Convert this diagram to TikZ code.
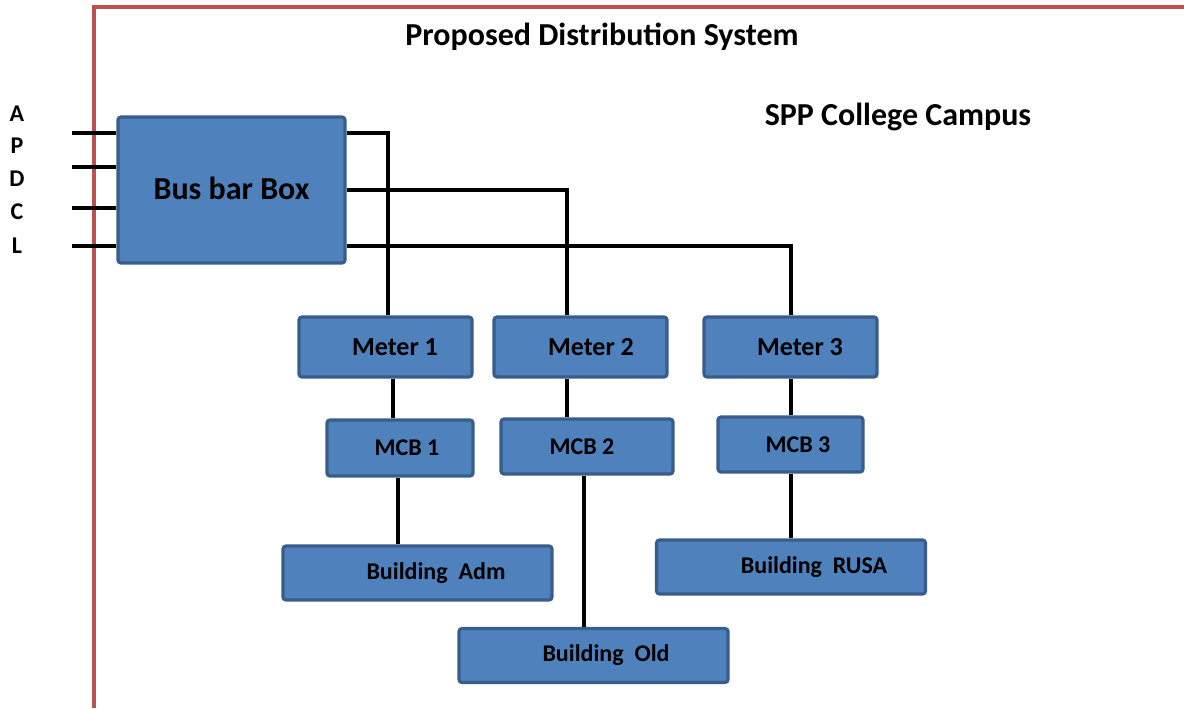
\documentclass[tikz,border=0pt]{standalone}
\usepackage{fontspec}
\setmainfont{Carlito}
\usetikzlibrary{positioning}
\definecolor{boxfill}{RGB}{79,129,189}
\definecolor{boxedge}{RGB}{56,93,138}
\definecolor{campred}{RGB}{192,80,77}
\begin{document}
\begin{tikzpicture}[x=.5pt,y=-.5pt,font=\bfseries,
    blk/.style={draw=boxedge,fill=boxfill,line width=1.6pt,rounded corners=1.5pt,inner sep=0pt},
    wire/.style={line width=1.8pt,black}]
    \useasboundingbox (0,0) rectangle (1184,708);
    \draw[campred,line width=2pt] (94,708)--(94,7)--(1184,7);
    \node (title) at (602,37) {\fontsize{16}{18}\selectfont Proposed Distribution System};
    \node (campus) at (898,117) {\fontsize{16}{18}\selectfont SPP College Campus};
    % supply letters
    \foreach \ch/\y in {A/114,P/146,D/179,C/212,L/246}{\node (l\ch) at (17,\y) {\fontsize{12}{14}\selectfont\ch};}
    % boxes
    \node[blk,minimum width=113.5pt,minimum height=73pt] (bus) at (231.5,190) {\fontsize{16}{18}\selectfont\raisebox{2pt}{Bus bar Box}};
    \node[blk,minimum width=86.5pt,minimum height=30pt] (m1) at (385.5,347) {\fontsize{13}{15}\selectfont\hspace*{9.5pt}Meter 1};
    \node[blk,minimum width=86.5pt,minimum height=30pt] (m2) at (580.5,347) {\fontsize{13}{15}\selectfont\hspace*{10.5pt}Meter 2};
    \node[blk,minimum width=86.5pt,minimum height=30pt] (m3) at (790.5,347) {\fontsize{13}{15}\selectfont\hspace*{9.5pt}Meter 3};
    \node[blk,minimum width=73pt,minimum height=28pt] (c1) at (400,448) {\fontsize{12}{14}\selectfont\hspace*{7pt}MCB 1};
    \node[blk,minimum width=86pt,minimum height=27.5pt] (c2) at (587,446.5) {\fontsize{12}{14}\selectfont\hspace*{-5pt}MCB 2};
    \node[blk,minimum width=72.5pt,minimum height=27.5pt] (c3) at (790.5,444.5) {\fontsize{12}{14}\selectfont\hspace*{7.5pt}MCB 3};
    \node[blk,minimum width=134.5pt,minimum height=27pt] (badm) at (417.5,573) {\fontsize{12}{14}\selectfont\hspace*{18.5pt}Building\ \ Adm};
    \node[blk,minimum width=134.5pt,minimum height=27pt] (bold) at (593.5,655.5) {\fontsize{12}{14}\selectfont\hspace*{12.5pt}Building\ \ Old};
    \node[blk,minimum width=134.5pt,minimum height=27pt] (brusa) at (791,567) {\fontsize{12}{14}\selectfont\hspace*{23pt}Building\ \ RUSA};
    % incoming lines
    \foreach \y in {133,167,208,246}{\draw[wire] (72,\y) -- (bus.west |- 0,\y);}
    % feeders
    \coordinate (j1) at (388,133);
    \coordinate (j2) at (567,190);
    \coordinate (j3) at (791,246);
    \draw[wire] (bus.east |- j1) -- (j1) -- (j1 |- m1.north);
    \draw[wire] (bus.east |- j2) -- (j2) -- (j2 |- m2.north);
    \draw[wire] (bus.east |- j3) -- (j3) -- (j3 |- m3.north);
    \draw[wire] (m1.south -| 393,0) -- (c1.north -| 393,0);
    \draw[wire] (c1.south -| 398,0) -- (badm.north -| 398,0);
    \draw[wire] (m2.south -| j2) -- (c2.north -| j2);
    \draw[wire] (c2.south -| 584,0) -- (bold.north -| 584,0);
    \draw[wire] (m3.south -| j3) -- (c3.north -| j3);
    \draw[wire] (c3.south -| j3) -- (brusa.north -| j3);
\end{tikzpicture}
\end{document}
